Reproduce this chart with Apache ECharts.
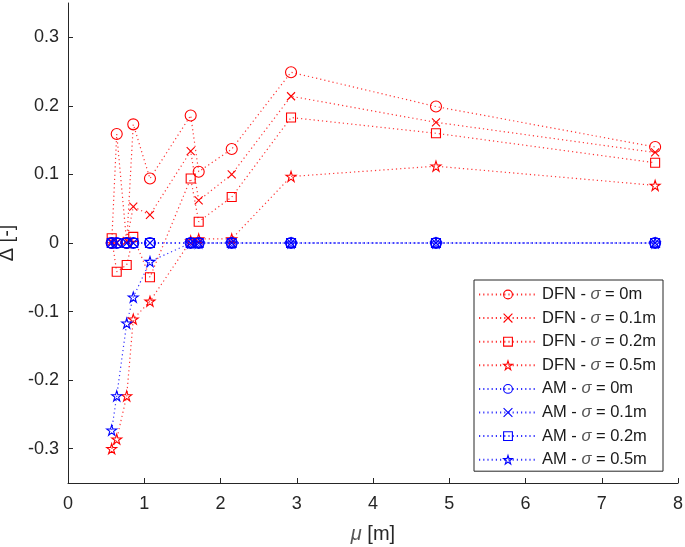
<!DOCTYPE html>
<html>
<head>
<meta charset="utf-8">
<script src="https://cdn.jsdelivr.net/npm/echarts@6/dist/echarts.min.js"></script>
<style>
  html, body { margin: 0; padding: 0; background: #fff; }
  #chart { width: 685px; height: 547px; }
</style>
</head>
<body>
<div id="chart"></div>
<script>
// mu [m] positions shared by all series
var muValues = [0.573, 0.639, 0.770, 0.856, 1.075, 1.609, 1.714, 2.147, 2.925, 4.826, 7.70];

var dfnSigma0   = [0.000, 0.159, 0.000, 0.173, 0.094, 0.186, 0.104, 0.137, 0.249, 0.199, 0.140];
var dfnSigma01  = [0.002, 0.001, 0.003, 0.053, 0.041, 0.134, 0.062, 0.100, 0.214, 0.176, 0.132];
var dfnSigma02  = [0.007, -0.042, -0.032, 0.009, -0.050, 0.094, 0.031, 0.067, 0.183, 0.160, 0.117];
var dfnSigma05  = [-0.300, -0.286, -0.223, -0.111, -0.085, 0.003, 0.006, 0.006, 0.097, 0.112, 0.084];

var amSigma0    = [0, 0, 0, 0, 0, 0, 0, 0, 0, 0, 0];
var amSigma01   = [0, 0, 0, 0, 0, 0, 0, 0, 0, 0, 0];
var amSigma02   = [0, 0, 0, 0, 0, 0, 0, 0, 0, 0, 0];
var amSigma05   = [-0.273, -0.223, -0.117, -0.079, -0.027, 0, 0, 0, 0, 0, 0];

var yTicks = [-0.3, -0.2, -0.1, 0, 0.1, 0.2, 0.3];

var seriesNames = [
    'DFN - σ = 0m', 'DFN - σ = 0.1m', 'DFN - σ = 0.2m', 'DFN - σ = 0.5m',
    'AM - σ = 0m', 'AM - σ = 0.1m', 'AM - σ = 0.2m', 'AM - σ = 0.5m'
];
var seriesValues = [dfnSigma0, dfnSigma01, dfnSigma02, dfnSigma05, amSigma0, amSigma01, amSigma02, amSigma05];

var RED = '#ff0000';
var BLUE = '#0000ff';
var FONT = 'Liberation Sans, Arial, sans-serif';
var AXIS_COLOR = '#262626';
var CLEAR = 'rgba(255,255,255,0)';

// hollow markers: transparent fill, coloured 1px outline
var crossPath = 'path://M0,0 L10,10 M10,0 L0,10';
var starPath = 'path://M50,0 L61.2,34.5 L97.6,34.5 L68.2,55.9 L79.4,90.5 L50,69.1 L20.6,90.5 L31.8,55.9 L2.4,34.5 L38.8,34.5 Z';

var markers = [
    { symbol: 'circle', size: 11 },
    { symbol: crossPath, size: 8 },
    { symbol: 'rect', size: 9 },
    { symbol: starPath, size: 10 }
];

var series = seriesNames.map(function(name, idx) {
    var color = idx < 4 ? RED : BLUE;
    var mk = markers[idx % 4];
    return {
        name: name,
        type: 'line',
        symbol: mk.symbol,
        symbolSize: mk.size,
        showAllSymbol: true,
        itemStyle: { color: CLEAR, borderColor: color, borderWidth: 1.1 },
        lineStyle: { color: color, width: 1.2, type: [1.2, 3], opacity: 0.8 },
        data: muValues.map(function(mu, i) { return [mu, seriesValues[idx][i]]; })
    };
});

var chart = echarts.init(document.getElementById('chart'));

var option = {
    animation: false,
    backgroundColor: '#fff',
    textStyle: { fontFamily: FONT },
    grid: { left: 68, right: 7, top: 3, bottom: 64, containLabel: false, outerBoundsMode: 'none' },
    legend: {
        orient: 'vertical',
        left: 474,
        top: 280,
        padding: [6, 7, 3, 4],
        itemWidth: 58,
        itemHeight: 11,
        itemGap: 6.6,
        borderColor: AXIS_COLOR,
        borderWidth: 1,
        backgroundColor: '#fff',
        itemStyle: { color: CLEAR, borderColor: 'inherit', borderWidth: 1.1 },
        data: seriesNames,
        formatter: function(name) {
            return name.replace('σ', '{i|σ}');
        },
        textStyle: {
            fontFamily: FONT,
            fontSize: 16.5,
            lineHeight: 16,
            color: '#1a1a1a',
            rich: {
                i: { fontFamily: FONT, fontSize: 16.5, lineHeight: 16, fontStyle: 'italic', color: '#555' }
            }
        }
    },
    xAxis: {
        type: 'value',
        min: 0,
        max: 8,
        interval: 1,
        name: '{i|μ} [m]',
        nameLocation: 'middle',
        nameGap: 41,
        nameTextStyle: {
            fontFamily: FONT,
            fontSize: 20,
            color: AXIS_COLOR,
            rich: {
                i: { fontFamily: FONT, fontSize: 20, fontStyle: 'italic', color: '#555' }
            }
        },
        axisLine: { show: true, onZero: false, lineStyle: { color: AXIS_COLOR, width: 1 } },
        axisTick: { show: true, inside: true, length: 5, lineStyle: { color: AXIS_COLOR } },
        axisLabel: { fontFamily: FONT, fontSize: 18, color: AXIS_COLOR, margin: 12 },
        splitLine: { show: false }
    },
    yAxis: {
        type: 'value',
        min: -0.35,
        max: 0.35,
        name: 'Δ [-]',
        nameLocation: 'middle',
        nameGap: 42,
        nameTextStyle: { fontFamily: FONT, fontSize: 20, color: AXIS_COLOR },
        axisLine: { show: true, onZero: false, lineStyle: { color: AXIS_COLOR, width: 1 } },
        axisTick: { show: true, inside: true, length: 5, customValues: yTicks, lineStyle: { color: AXIS_COLOR } },
        axisLabel: {
            fontFamily: FONT, fontSize: 18, color: AXIS_COLOR, margin: 9,
            customValues: yTicks,
            formatter: function(v) { return String(Math.round(v * 10) / 10); }
        },
        splitLine: { show: false }
    },
    series: series
};

chart.setOption(option);
</script>
</body>
</html>
